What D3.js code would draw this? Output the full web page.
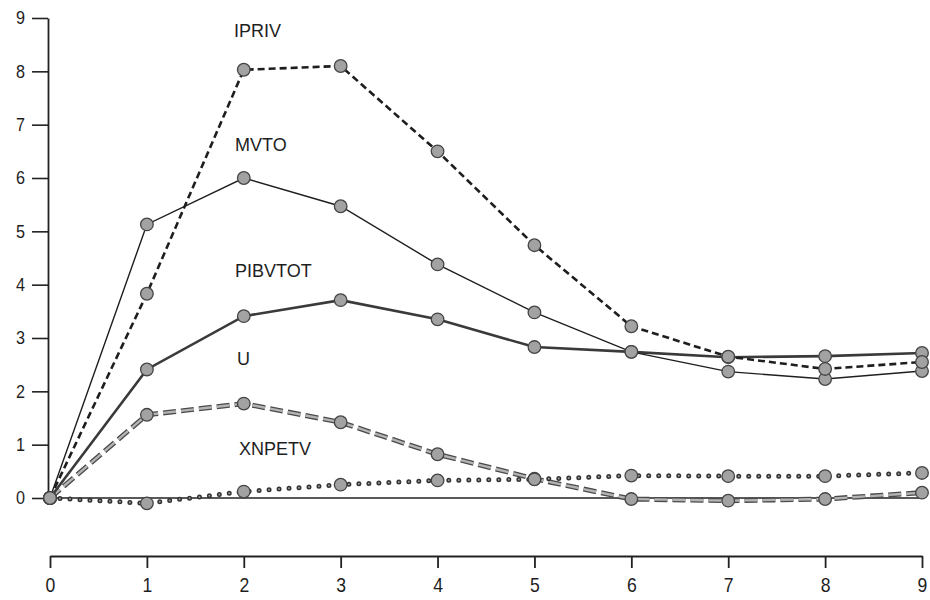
<!DOCTYPE html>
<html>
<head>
<meta charset="utf-8">
<script src="https://cdn.jsdelivr.net/npm/d3@7"></script>
<style>
  body { margin: 0; background: #fff; }
  svg text { font-family: "Liberation Sans", Arial, sans-serif; fill: #1e1e1e; }
</style>
</head>
<body>
<svg id="chart" width="930" height="600"></svg>
<script>
// Response of each variable, periods 0..9
const periods = [0, 1, 2, 3, 4, 5, 6, 7, 8, 9];
const ipriv   = [0, 3.83, 8.03, 8.10, 6.50, 4.74, 3.22, 2.65, 2.42, 2.55];
const mvto    = [0, 5.13, 6.00, 5.47, 4.38, 3.48, 2.74, 2.37, 2.23, 2.38];
const pibvtot = [0, 2.41, 3.41, 3.71, 3.35, 2.83, 2.74, 2.64, 2.66, 2.72];
const uRate   = [0, 1.56, 1.77, 1.42, 0.82, 0.36, -0.02, -0.05, -0.02, 0.10];
const xnpetv  = [0, -0.10, 0.12, 0.25, 0.33, 0.35, 0.42, 0.41, 0.41, 0.47];
const yTicks  = [0, 1, 2, 3, 4, 5, 6, 7, 8, 9];
const xTicks  = [0, 1, 2, 3, 4, 5, 6, 7, 8, 9];

const svg = d3.select("#chart");

const x = d3.scaleLinear().domain([0, 9]).range([50, 922]);
const y = d3.scaleLinear().domain([0, 9]).range([498, 18]);

// Vertical axis
const yAxis = svg.append("g")
  .attr("transform", "translate(48,0)")
  .call(d3.axisLeft(y).tickValues(yTicks).tickFormat(d3.format("d"))
        .tickSize(16).tickSizeOuter(0).tickPadding(7));
yAxis.select(".domain").attr("stroke", "#222").attr("stroke-width", 1.8);
yAxis.selectAll(".tick line").attr("stroke", "#222").attr("stroke-width", 1.6);
yAxis.selectAll("text").attr("font-size", 18).style("fill", "#1e1e1e")
  .attr("font-family", "Liberation Sans, Arial, sans-serif")
  .attr("transform", "scale(0.9,1)").attr("x", -23 / 0.9);

// Zero reference line
svg.append("line")
  .attr("x1", x(0)).attr("x2", x(9))
  .attr("y1", y(0)).attr("y2", y(0))
  .attr("stroke", "#222").attr("stroke-width", 1.4);

// Horizontal (period) axis, drawn below the plot
const xAxis = svg.append("g")
  .attr("transform", "translate(0,556)")
  .call(d3.axisBottom(x).tickValues(xTicks).tickFormat(d3.format("d"))
        .tickSize(12).tickSizeOuter(0).tickPadding(10));
xAxis.select(".domain").attr("stroke", "#222").attr("stroke-width", 1.8);
xAxis.selectAll(".tick line").attr("stroke", "#222").attr("stroke-width", 1.8);
xAxis.selectAll("text").attr("font-size", 20).style("fill", "#1e1e1e")
  .attr("font-family", "Liberation Sans, Arial, sans-serif")
  .attr("transform", "scale(0.88,1)");

const line = d3.line().x((d, i) => x(periods[i])).y(d => y(d));

// U: long grey dashes with dark edges
svg.append("path").datum(uRate).attr("d", line)
  .attr("fill", "none").attr("stroke", "#4a4a4a").attr("stroke-width", 5)
  .attr("stroke-dasharray", "13,5");
svg.append("path").datum(uRate).attr("d", line)
  .attr("fill", "none").attr("stroke", "#b4b4b4").attr("stroke-width", 2.4)
  .attr("stroke-dasharray", "13,5");

// XNPETV: dotted
svg.append("path").datum(xnpetv).attr("d", line)
  .attr("fill", "none").attr("stroke", "#333").attr("stroke-width", 5)
  .attr("stroke-linecap", "round").attr("stroke-dasharray", "0,10");
svg.append("path").datum(xnpetv).attr("d", line)
  .attr("fill", "none").attr("stroke", "#9a9a9a").attr("stroke-width", 2)
  .attr("stroke-linecap", "round").attr("stroke-dasharray", "0,10");

// PIBVTOT: heavier solid
svg.append("path").datum(pibvtot).attr("d", line)
  .attr("fill", "none").attr("stroke", "#3a3a3a").attr("stroke-width", 2.6);

// MVTO: thin solid
svg.append("path").datum(mvto).attr("d", line)
  .attr("fill", "none").attr("stroke", "#1e1e1e").attr("stroke-width", 1.4);

// IPRIV: short black dashes
svg.append("path").datum(ipriv).attr("d", line)
  .attr("fill", "none").attr("stroke", "#1e1e1e").attr("stroke-width", 2.6)
  .attr("stroke-dasharray", "7,4");

// Point markers
[uRate, xnpetv, pibvtot, mvto, ipriv].forEach(series => {
  svg.append("g").selectAll("circle").data(series).join("circle")
    .attr("cx", (d, i) => x(periods[i]))
    .attr("cy", d => y(d))
    .attr("r", 6.3)
    .attr("fill", "#a2a2a2")
    .attr("stroke", "#444")
    .attr("stroke-width", 1.3);
});

// Series labels
const labels = [
  { name: "IPRIV",   px: 1.90, v: 8.64 },
  { name: "MVTO",    px: 1.91, v: 6.51 },
  { name: "PIBVTOT", px: 1.91, v: 4.14 },
  { name: "U",       px: 1.93, v: 2.49 },
  { name: "XNPETV",  px: 1.95, v: 0.81 }
];
svg.append("g").selectAll("text").data(labels).join("text")
  .attr("x", d => x(d.px))
  .attr("y", d => y(d.v))
  .attr("font-size", 18)
  .text(d => d.name);
</script>
</body>
</html>
